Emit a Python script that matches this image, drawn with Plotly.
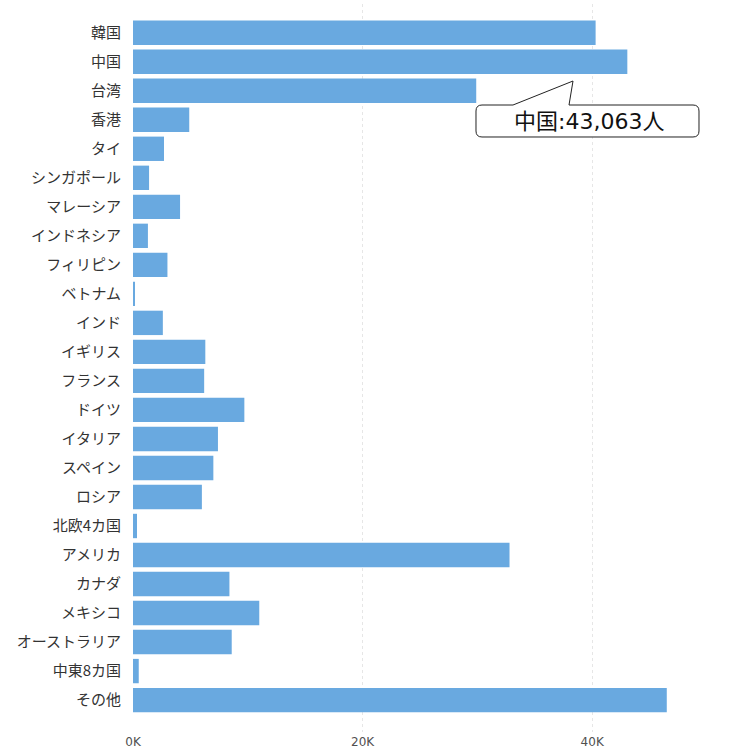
import plotly.graph_objects as go

# Visitors by country/region (persons)
countries = [
    "韓国", "中国", "台湾", "香港", "タイ", "シンガポール", "マレーシア",
    "インドネシア", "フィリピン", "ベトナム", "インド", "イギリス", "フランス",
    "ドイツ", "イタリア", "スペイン", "ロシア", "北欧4カ国", "アメリカ",
    "カナダ", "メキシコ", "オーストラリア", "中東8カ国", "その他",
]
visitors = [
    40300, 43063, 29900, 4900, 2700, 1400, 4100,
    1300, 3000, 100, 2600, 6300, 6200,
    9700, 7400, 7000, 6000, 350, 32800,
    8400, 11000, 8600, 500, 46500,
]
x_ticks = [0, 20000, 40000]
x_tick_labels = ["0K", "20K", "40K"]

callout_country = "中国"
callout_value = visitors[countries.index(callout_country)]
callout_text = f"{callout_country}:{callout_value:,}人"

W, H = 735, 751
ML, MR, MT, MB = 133, 51, 4, 19
PW, PH = W - ML - MR, H - MT - MB

BAR_COLOR = "#69a9e0"
FONT = "Noto Sans CJK JP"


def paper(x, y):
    """Pixel position on the page -> paper coordinates."""
    return (x - ML) / PW, 1 - (y - MT) / PH


fig = go.Figure(
    go.Bar(
        x=visitors,
        y=countries,
        orientation="h",
        marker=dict(color=BAR_COLOR, line=dict(width=0)),
        hovertemplate="%{y}: %{x:,}人<extra></extra>",
    )
)

# Speech-bubble callout pointing at the bar of interest
x0, x1, y0, y1, r = 476, 699, 105, 137, 6
tip = (573, 81)
pts = [
    ("M", (x0 + r, y0)), ("L", (513, y0)), ("L", tip), ("L", (569, y0)),
    ("L", (x1 - r, y0)), ("Q", (x1, y0), (x1, y0 + r)),
    ("L", (x1, y1 - r)), ("Q", (x1, y1), (x1 - r, y1)),
    ("L", (x0 + r, y1)), ("Q", (x0, y1), (x0, y1 - r)),
    ("L", (x0, y0 + r)), ("Q", (x0, y0), (x0 + r, y0)),
]
path = ""
for cmd, *coords in pts:
    path += cmd + " " + " ".join("{:.5f},{:.5f}".format(*paper(*c)) for c in coords) + " "
path += "Z"

fig.add_shape(
    type="path", path=path, xref="paper", yref="paper",
    fillcolor="white", line=dict(color="#222222", width=1), layer="above",
)
cx, cy = paper((x0 + x1) / 2 + 1, (y0 + y1) / 2 + 1)
fig.add_annotation(
    x=cx, y=cy, xref="paper", yref="paper", text=callout_text,
    showarrow=False, xanchor="center", yanchor="middle",
    font=dict(family="DejaVu Sans, " + FONT, size=22, color="#111111"),
)

fig.update_layout(
    width=W, height=H,
    margin=dict(l=ML, r=MR, t=MT, b=MB, pad=0, autoexpand=False),
    paper_bgcolor="white", plot_bgcolor="white",
    showlegend=False,
    bargap=0.16,
    font=dict(family=FONT),
)
fig.update_xaxes(
    range=[0, 48000], automargin=False,
    tickvals=x_ticks, ticktext=x_tick_labels,
    showgrid=True, gridcolor="#e6e6e6", griddash="dot", gridwidth=1,
    zeroline=False, showline=False,
    tickfont=dict(family="DejaVu Sans, " + FONT, size=12, color="#505050"),
    ticks="", ticklabelstandoff=1,
)
fig.update_yaxes(
    type="category", automargin=False,
    categoryorder="array", categoryarray=countries,
    range=[24.1, -0.99],
    showgrid=False, zeroline=False, showline=False,
    tickfont=dict(family=FONT, size=15, color="#333333"),
    ticks="", ticklabelstandoff=11,
)

fig.write_html("out.html")
